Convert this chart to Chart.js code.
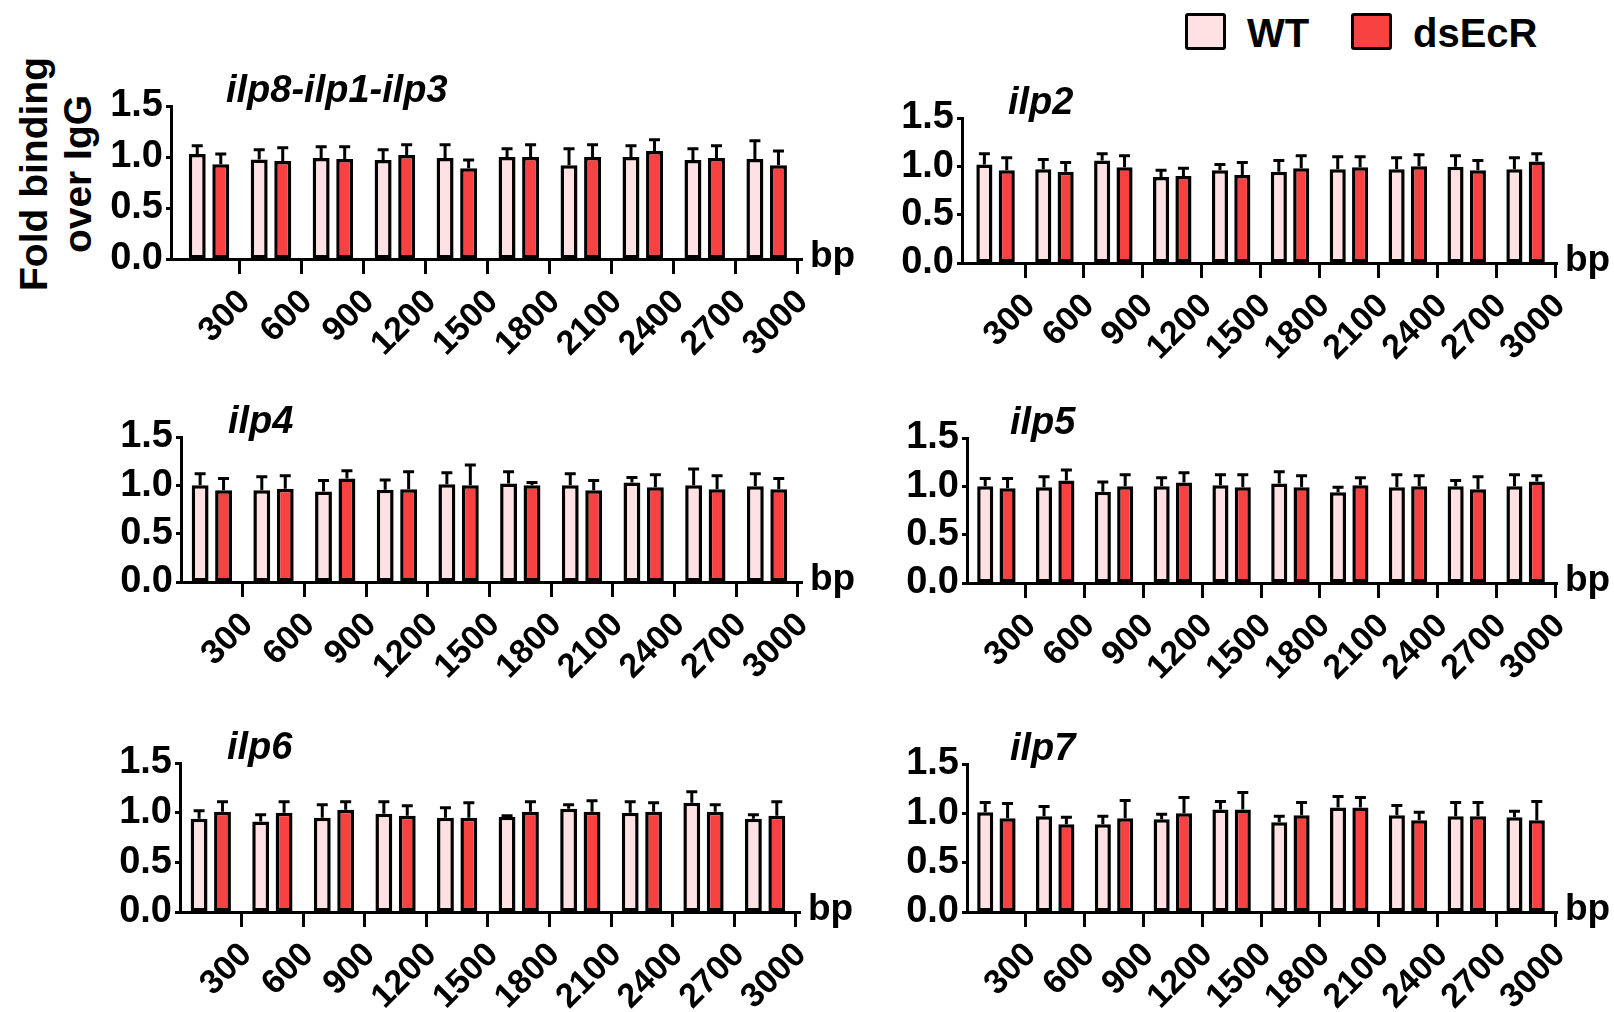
<!DOCTYPE html>
<html lang="en">
<head>
  <meta charset="UTF-8">
  <title>Fold binding over IgG</title>
  <script src="https://cdn.jsdelivr.net/npm/chart.js"></script>
  <style>
    body {
      margin: 0;
      background: #fff;
      width: 1614px;
      height: 1012px;
      overflow: hidden;
      position: relative;
      font-family: 'Liberation Sans', Arial, sans-serif;
      color: #000;
    }
    canvas { position: absolute; }
    .title {
      position: absolute;
      font: italic bold 38px/38px 'Liberation Sans', Arial, sans-serif;
      white-space: nowrap;
    }
    .ytitle {
      position: absolute;
      left: -76px;
      top: 130px;
      width: 264px;
      height: 88px;
      text-align: center;
      font: bold 39px/44px 'Liberation Sans', Arial, sans-serif;
      transform: rotate(-90deg);
      transform-origin: 50% 50%;
      white-space: nowrap;
    }
    .swatch {
      position: absolute;
      top: 13px;
      width: 41px;
      height: 37px;
      box-sizing: border-box;
      border: 3px solid #000;
      border-radius: 3px;
    }
    .legtext {
      position: absolute;
      top: 13px;
      font: bold 40px/40px 'Liberation Sans', Arial, sans-serif;
      white-space: nowrap;
    }
  </style>
</head>
<body>
  <div class="ytitle">Fold binding<br>over IgG</div>

  <div class="swatch" style="left:1185px; background:#ffe0e3"></div>
  <div class="legtext" style="left:1247px">WT</div>
  <div class="swatch" style="left:1351px; background:#f84242"></div>
  <div class="legtext" style="left:1413px">dsEcR</div>

  <script>
    // bar positions (bp) and axis ticks
    const positionsBp = [150, 450, 750, 1050, 1350, 1650, 1950, 2250, 2550, 2850];
    const tickValues = [300, 600, 900, 1200, 1500, 1800, 2100, 2400, 2700, 3000];
    const yTickValues = [0, 0.5, 1.0, 1.5];
    const axisUnit = 'bp';
    const seriesNames = ['WT', 'dsEcR'];
    const panelNames = ['ilp8-ilp1-ilp3', 'ilp2', 'ilp4', 'ilp5', 'ilp6', 'ilp7'];

    // ilp8-ilp1-ilp3
    const wtIlp813 = [1.03, 0.975, 0.99, 0.97, 0.99, 1.00, 0.92, 1.00, 0.97, 0.98];
    const wtErrIlp813 = [0.08, 0.095, 0.11, 0.10, 0.13, 0.08, 0.16, 0.11, 0.11, 0.18];
    const dsIlp813 = [0.93, 0.96, 0.98, 1.02, 0.89, 1.00, 1.00, 1.06, 0.99, 0.92];
    const dsErrIlp813 = [0.10, 0.13, 0.12, 0.10, 0.08, 0.12, 0.12, 0.11, 0.12, 0.14];

    // ilp2
    const wtIlp2 = [1.02, 0.97, 1.06, 0.89, 0.96, 0.945, 0.97, 0.97, 0.995, 0.97];
    const wtErrIlp2 = [0.11, 0.10, 0.07, 0.07, 0.06, 0.115, 0.13, 0.12, 0.115, 0.12];
    const dsIlp2 = [0.96, 0.945, 0.99, 0.90, 0.91, 0.98, 0.99, 1.00, 0.96, 1.05];
    const dsErrIlp2 = [0.13, 0.095, 0.12, 0.08, 0.13, 0.13, 0.11, 0.12, 0.10, 0.08];

    // ilp4
    const wtIlp4 = [1.00, 0.95, 0.935, 0.955, 1.01, 1.02, 1.00, 1.03, 1.00, 0.99];
    const wtErrIlp4 = [0.12, 0.14, 0.115, 0.10, 0.12, 0.12, 0.12, 0.05, 0.17, 0.13];
    const dsIlp4 = [0.95, 0.965, 1.07, 0.96, 1.00, 1.00, 0.95, 0.98, 0.96, 0.96];
    const dsErrIlp4 = [0.12, 0.135, 0.08, 0.18, 0.21, 0.03, 0.10, 0.13, 0.14, 0.11];

    // ilp5
    const wtIlp5 = [1.00, 0.99, 0.945, 1.00, 1.01, 1.03, 0.94, 0.99, 1.00, 1.00];
    const wtErrIlp5 = [0.08, 0.11, 0.10, 0.09, 0.11, 0.12, 0.05, 0.13, 0.06, 0.12];
    const dsIlp5 = [0.98, 1.06, 1.00, 1.04, 0.99, 0.99, 1.01, 1.00, 0.97, 1.05];
    const dsErrIlp5 = [0.10, 0.11, 0.12, 0.10, 0.13, 0.12, 0.08, 0.11, 0.13, 0.06];

    // ilp6
    const wtIlp6 = [0.94, 0.91, 0.95, 0.99, 0.95, 0.96, 1.04, 1.00, 1.10, 0.94];
    const wtErrIlp6 = [0.08, 0.07, 0.13, 0.12, 0.10, 0.01, 0.04, 0.11, 0.11, 0.04];
    const dsIlp6 = [1.01, 1.00, 1.03, 0.97, 0.95, 1.01, 1.01, 1.01, 1.01, 0.97];
    const dsErrIlp6 = [0.10, 0.11, 0.08, 0.10, 0.15, 0.10, 0.11, 0.09, 0.07, 0.14];

    // ilp7
    const wtIlp7 = [1.01, 0.97, 0.89, 0.94, 1.04, 0.91, 1.06, 0.98, 0.97, 0.96];
    const wtErrIlp7 = [0.10, 0.10, 0.08, 0.05, 0.08, 0.06, 0.11, 0.10, 0.14, 0.06];
    const dsIlp7 = [0.95, 0.89, 0.95, 1.00, 1.04, 0.98, 1.06, 0.93, 0.97, 0.93];
    const dsErrIlp7 = [0.15, 0.07, 0.18, 0.16, 0.17, 0.13, 0.10, 0.08, 0.14, 0.19];

    const WT_FILL = '#ffe0e3';
    const DS_FILL = '#f84242';
    const FONT = "'Liberation Sans', Arial, sans-serif";

    // plot area of each panel on the page, plus the bp range of its x axis
    const panels = [
      { wt: wtIlp813, wtErr: wtErrIlp813, ds: dsIlp813, dsErr: dsErrIlp813,
        left: 171, right: 802, top: 106, bottom: 259, xMin: -34, xMax: 3021, titleX: 226 },
      { wt: wtIlp2, wtErr: wtErrIlp2, ds: dsIlp2, dsErr: dsErrIlp2,
        left: 962, right: 1557, top: 118, bottom: 263, xMin: -21, xMax: 3010, titleX: 1008 },
      { wt: wtIlp4, wtErr: wtErrIlp4, ds: dsIlp4, dsErr: dsErrIlp4,
        left: 181, right: 802, top: 437, bottom: 582, xMin: 0, xMax: 3020, titleX: 228 },
      { wt: wtIlp5, wtErr: wtErrIlp5, ds: dsIlp5, dsErr: dsErrIlp5,
        left: 967, right: 1557, top: 438, bottom: 583, xMin: 0, xMax: 3010, titleX: 1010 },
      { wt: wtIlp6, wtErr: wtErrIlp6, ds: dsIlp6, dsErr: dsErrIlp6,
        left: 180, right: 800, top: 763, bottom: 912, xMin: 0, xMax: 3020, titleX: 227 },
      { wt: wtIlp7, wtErr: wtErrIlp7, ds: dsIlp7, dsErr: dsErrIlp7,
        left: 967, right: 1557, top: 764, bottom: 912, xMin: 0, xMax: 3010, titleX: 1010 }
    ];

    const errorBars = {
      id: 'errorBars',
      afterDatasetsDraw(chart) {
        const ctx = chart.ctx;
        const yScale = chart.scales.y;
        ctx.save();
        ctx.strokeStyle = '#000';
        ctx.lineWidth = 3;
        chart.data.datasets.forEach((ds, di) => {
          chart.getDatasetMeta(di).data.forEach((bar, i) => {
            const top = yScale.getPixelForValue(ds.data[i].y + ds.err[i]);
            ctx.beginPath();
            ctx.moveTo(bar.x, bar.y);
            ctx.lineTo(bar.x, top);
            ctx.moveTo(bar.x - 5.5, top);
            ctx.lineTo(bar.x + 5.5, top);
            ctx.stroke();
          });
        });
        ctx.restore();
      }
    };

    const unitLabel = {
      id: 'unitLabel',
      afterDraw(chart) {
        const a = chart.chartArea;
        const ctx = chart.ctx;
        ctx.save();
        ctx.font = 'bold 37px ' + FONT;
        ctx.fillStyle = '#000';
        ctx.textBaseline = 'alphabetic';
        ctx.fillText(axisUnit, a.right + 8, a.bottom + 8);
        ctx.restore();
      }
    };

    const Y_W = 82, PAD_T = 40, PAD_R = 55, X_H = 125;

    panels.forEach((p, n) => {
      const w = p.right - p.left + Y_W + PAD_R;
      const h = p.bottom - p.top + PAD_T + X_H;
      const canvas = document.createElement('canvas');
      canvas.width = w;
      canvas.height = h;
      canvas.style.left = (p.left - Y_W) + 'px';
      canvas.style.top = (p.top - PAD_T) + 'px';
      canvas.style.width = w + 'px';
      canvas.style.height = h + 'px';
      document.body.appendChild(canvas);

      const title = document.createElement('div');
      title.className = 'title';
      title.textContent = panelNames[n];
      title.style.left = p.titleX + 'px';
      title.style.top = (p.top - 4 - 32) + 'px';
      document.body.appendChild(title);

      new Chart(canvas, {
        type: 'bar',
        data: {
          datasets: [
            {
              label: seriesNames[0],
              data: positionsBp.map((x, i) => ({ x: x, y: p.wt[i] })),
              err: p.wtErr,
              backgroundColor: WT_FILL,
              borderColor: '#000',
              borderWidth: 3.5,
              borderSkipped: false
            },
            {
              label: seriesNames[1],
              data: positionsBp.map((x, i) => ({ x: x, y: p.ds[i] })),
              err: p.dsErr,
              backgroundColor: DS_FILL,
              borderColor: '#000',
              borderWidth: 3.5,
              borderSkipped: false
            }
          ]
        },
        options: {
          responsive: false,
          animation: false,
          devicePixelRatio: 1,
          layout: { padding: { top: PAD_T, right: PAD_R, left: 0, bottom: 0 } },
          datasets: { bar: { categoryPercentage: 0.76, barPercentage: 0.72 } },
          plugins: {
            legend: { display: false },
            tooltip: { enabled: false }
          },
          scales: {
            x: {
              type: 'linear',
              min: p.xMin,
              max: p.xMax,
              offset: false,
              afterBuildTicks: s => { s.ticks = tickValues.map(v => ({ value: v })); },
              afterFit: s => { s.height = X_H; },
              grid: {
                offset: false,
                drawOnChartArea: false,
                drawTicks: true,
                tickLength: 15,
                tickWidth: 3,
                tickColor: '#000'
              },
              border: { display: true, color: '#000', width: 3 },
              ticks: {
                autoSkip: false,
                minRotation: 45,
                maxRotation: 45,
                padding: 8,
                labelOffset: 5,
                color: '#000',
                font: { family: FONT, size: 34, weight: 'bold' },
                callback: v => String(v)
              }
            },
            y: {
              min: 0,
              max: 1.5,
              afterBuildTicks: s => { s.ticks = yTickValues.map(v => ({ value: v })); },
              afterFit: s => { s.width = Y_W; },
              grid: {
                drawOnChartArea: false,
                tickLength: 5,
                tickWidth: 3,
                tickColor: '#000'
              },
              border: { display: true, color: '#000', width: 3 },
              ticks: {
                autoSkip: false,
                padding: 3,
                color: '#000',
                font: { family: FONT, size: 38, weight: 'bold' },
                callback: v => Number(v).toFixed(1)
              }
            }
          }
        },
        plugins: [errorBars, unitLabel]
      });
    });
  </script>
</body>
</html>
